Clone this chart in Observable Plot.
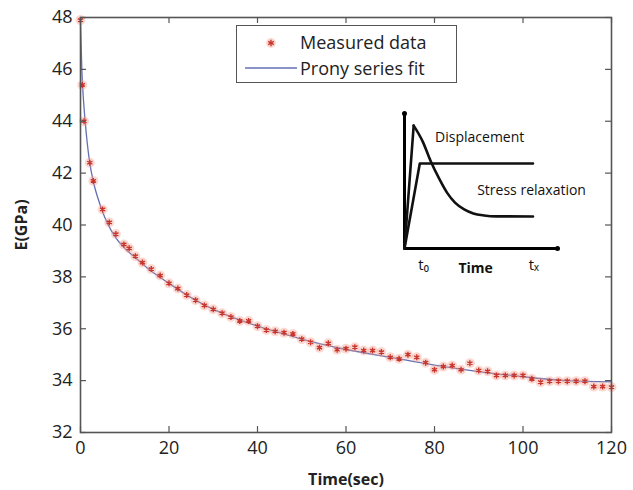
<!DOCTYPE html>
<html>
<head>
<meta charset="utf-8">
<script src="https://cdn.jsdelivr.net/npm/d3@7"></script>
<script src="https://cdn.jsdelivr.net/npm/@observablehq/plot@0.6"></script>
<style>
  body { margin: 0; background: #fff; }
  #wrap { position: relative; width: 633px; height: 490px; font-family: "Open Sans", sans-serif; }
  #wrap svg { position: absolute; left: 0; top: 0; }
  g[aria-label="y-axis label"] text, g[aria-label="x-axis label"] text { font-weight: bold; font-size: 16px; }
  #legend { position: absolute; left: 236px; top: 25px; width: 219px; height: 56px; border: 1.5px solid #555; background: #fff; }
  #legend .row { position: absolute; left: 0; height: 26px; font-size: 18px; color: #222; line-height: 26px; }
  #legend .row span { position: absolute; left: 63px; white-space: nowrap; }
</style>
</head>
<body>
<div id="wrap"></div>
<script>
// Measured data (time in s, modulus in GPa)
const measTime = [0, 0.4, 0.8, 2.1, 2.9, 5.0, 6.5, 8.0, 9.8, 11.0, 12.4,
  14, 16, 18, 20, 22, 24, 26, 28, 30, 32, 34, 36, 38, 40, 42, 44, 46, 48, 50,
  52, 54, 56, 58, 60, 62, 64, 66, 68, 70, 72, 74, 76, 78, 80, 82, 84, 86, 88, 90,
  92, 94, 96, 98, 100, 102, 104, 106, 108, 110, 112, 114, 116, 118, 120];
const measE = [47.9, 45.4, 44.0, 42.4, 41.7, 40.6, 40.1, 39.65, 39.25, 39.1, 38.8,
  38.55, 38.3, 38.05, 37.75, 37.55, 37.3, 37.1, 36.9, 36.75, 36.6, 36.45, 36.3, 36.3, 36.1, 35.95, 35.9, 35.85, 35.8, 35.6,
  35.48, 35.27, 35.44, 35.19, 35.23, 35.29, 35.16, 35.16, 35.1, 34.9, 34.84, 35.0, 34.9, 34.69, 34.42, 34.54, 34.58, 34.42, 34.67, 34.39,
  34.36, 34.2, 34.2, 34.2, 34.2, 34.07, 33.94, 33.98, 33.98, 33.98, 33.98, 33.98, 33.77, 33.77, 33.75];

// Prony series fit
const fitTime = [0, 0.3, 0.6, 1, 1.5, 2, 3, 4, 5, 6, 8, 10, 12, 15, 20, 25, 30, 35, 40, 45, 50, 60, 70, 80, 90, 100, 110, 120];
const fitE = [47.8, 46.0, 45.0, 44.1, 43.2, 42.5, 41.6, 41.0, 40.5, 40.1, 39.5, 39.1, 38.8, 38.35, 37.75, 37.2, 36.75, 36.4, 36.1, 35.85, 35.6, 35.2, 34.9, 34.6, 34.35, 34.15, 34.0, 33.95];

const xTicks = [0, 20, 40, 60, 80, 100, 120];
const yTicks = [32, 34, 36, 38, 40, 42, 44, 46, 48];

// Inset schematic (arbitrary units)
const axesX = [0, 0, 10];
const axesY = [10, 0, 0];
const dispX = [0, 1, 8.4];
const dispY = [0, 6.3, 6.3];
const riseX = [0, 0.6];
const riseY = [0, 9.1];
const decayX = [0.6, 1.2, 1.7, 2.3, 2.8, 3.3, 3.9, 4.5, 5.2, 6.0, 8.4];
const decayY = [9.1, 7.9, 6.5, 5.1, 4.1, 3.4, 2.9, 2.6, 2.45, 2.38, 2.37];
const insetLabels = ["Displacement", "Stress relaxation"];
const insetLabelX = [2.0, 4.75];
const insetLabelY = [8.2, 4.3];
const insetTicks = ["t\u2080", "t\u2093"];
const insetTickX = [1.25, 8.45];

const meas = measTime.map((t, i) => ({t, e: measE[i]}));
const fit = fitTime.map((t, i) => ({t, e: fitE[i]}));
const pts = (xs, ys) => xs.map((x, i) => ({x, y: ys[i]}));

const main = Plot.plot({
  width: 633, height: 490,
  marginLeft: 80, marginRight: 22, marginTop: 17, marginBottom: 58,
  style: {fontFamily: "Open Sans, sans-serif", fontSize: "18px", color: "#222", background: "transparent"},
  x: {domain: [0, 120]},
  y: {domain: [32, 48]},
  marks: [
    Plot.line(fit, {x: "t", y: "e", stroke: "#6470b4", strokeWidth: 1.3, curve: "monotone-x"}),
    Plot.dot(meas, {x: "t", y: "e", r: 5, fill: "#f5a08e", fillOpacity: 0.4}),
    Plot.dot(meas, {x: "t", y: "e", symbol: "asterisk", r: 2.8, stroke: "#c8352c", strokeWidth: 1.4}),
    Plot.ruleX(xTicks, {x: d => d, y1: 32, y2: 32.23, stroke: "#555", strokeWidth: 1.2}),
    Plot.ruleX(xTicks, {x: d => d, y1: 48, y2: 47.77, stroke: "#555", strokeWidth: 1.2}),
    Plot.ruleY(yTicks, {y: d => d, x1: 0, x2: 1.35, stroke: "#555", strokeWidth: 1.2}),
    Plot.ruleY(yTicks, {y: d => d, x1: 120, x2: 118.65, stroke: "#555", strokeWidth: 1.2}),
    Plot.frame({stroke: "#555", strokeWidth: 1.6}),
    Plot.axisX({ticks: xTicks, tickSize: 0, tickPadding: 9, label: "Time(sec)", labelAnchor: "center", labelArrow: "none", labelOffset: 52}),
    Plot.axisY({ticks: yTicks, tickSize: 0, tickPadding: 8, label: "E(GPa)", labelAnchor: "center", labelArrow: "none", labelOffset: 65})
  ]
});

const inset = Plot.plot({
  width: 633, height: 490,
  style: {fontFamily: "Open Sans, sans-serif", fontSize: "14px", color: "#111", background: "transparent"},
  x: {domain: [0, 10], range: [404, 557], axis: null},
  y: {domain: [0, 10], range: [248, 113], axis: null},
  marks: [
    Plot.line(pts(axesX, axesY), {x: "x", y: "y", stroke: "#000", strokeWidth: 3}),
    Plot.dot([{x: 0, y: 10}, {x: 10, y: 0}], {x: "x", y: "y", r: 2.5, fill: "#000"}),
    Plot.line(pts(dispX, dispY), {x: "x", y: "y", stroke: "#111", strokeWidth: 2.6}),
    Plot.line(pts(riseX, riseY), {x: "x", y: "y", stroke: "#111", strokeWidth: 2.6}),
    Plot.line(pts(decayX, decayY), {x: "x", y: "y", stroke: "#111", strokeWidth: 2.6, curve: "monotone-x"}),
    Plot.text(insetLabels.map((s, i) => ({s, x: insetLabelX[i], y: insetLabelY[i]})), {x: "x", y: "y", text: "s", textAnchor: "start", fill: "#111"}),
    Plot.text(insetTicks.map((s, i) => ({s, x: insetTickX[i], y: -1.25})), {x: "x", y: "y", text: "s", fill: "#111", fontSize: 15}),
    Plot.text([{s: "Time", x: 4.65, y: -1.45}], {x: "x", y: "y", text: "s", fill: "#111", fontWeight: "bold", fontSize: 14})
  ]
});

const wrap = document.getElementById("wrap");
wrap.appendChild(main);
inset.style.pointerEvents = "none";
wrap.appendChild(inset);

const legend = document.createElement("div");
legend.id = "legend";
legend.innerHTML = `
  <div class="row" style="top:3px;width:219px">
    <svg width="60" height="26" style="position:absolute;left:0;top:0">
      <circle cx="34" cy="14" r="5" fill="#f5a08e" fill-opacity="0.4"></circle>
      <g stroke="#c8352c" stroke-width="1.4">
        <line x1="34" y1="10.8" x2="34" y2="17.2"></line>
        <line x1="31.2" y1="12.4" x2="36.8" y2="15.6"></line>
        <line x1="31.2" y1="15.6" x2="36.8" y2="12.4"></line>
      </g>
    </svg>
    <span>Measured data</span>
  </div>
  <div class="row" style="top:29px;width:219px">
    <svg width="60" height="26" style="position:absolute;left:0;top:0">
      <line x1="8" y1="13" x2="60" y2="13" stroke="#6470b4" stroke-width="1.3"></line>
    </svg>
    <span>Prony series fit</span>
  </div>`;
wrap.appendChild(legend);
</script>
</body>
</html>
